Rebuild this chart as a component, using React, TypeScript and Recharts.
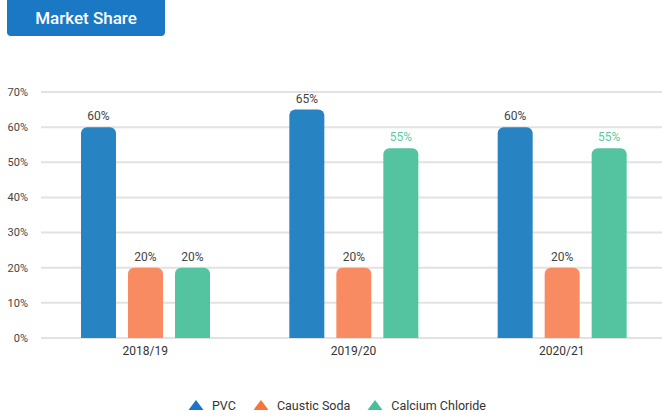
import React from "react";
import {
  BarChart,
  Bar,
  XAxis,
  YAxis,
  CartesianGrid,
  Legend,
  LabelList,
} from "recharts";

const categories = ["2018/19", "2019/20", "2020/21"];
const pvc = [60, 65, 60];
const causticSoda = [20, 20, 20];
const calciumChloride = [20, 54, 54];
const calciumChlorideLabels = ["20%", "55%", "55%"];
const yTicks = [0, 10, 20, 30, 40, 50, 60, 70];

const FONT = "Roboto, 'Noto Sans', sans-serif";

const SERIES = [
  { key: "pvc", name: "PVC", bar: "#2783c2", icon: "#1c75c8" },
  { key: "causticSoda", name: "Caustic Soda", bar: "#f88b62", icon: "#f4763a" },
  { key: "calciumChloride", name: "Calcium Chloride", bar: "#54c4a0", icon: "#45c09a" },
];

// label colour per category for the calcium chloride series
const CC_LABEL_COLORS = ["#444444", "#5ccaa3", "#5ccaa3"];

const data = categories.map((c, i) => ({
  category: c,
  pvc: pvc[i],
  causticSoda: causticSoda[i],
  calciumChloride: calciumChloride[i],
}));

function makeLabel(getText: (i: number, v: number) => string, getColor: (i: number) => string) {
  return (props: any) => {
    const { x, y, width, value, index } = props;
    return (
      <text
        x={Number(x) + Number(width) / 2}
        y={Number(y) - 7}
        textAnchor="middle"
        fontSize={12}
        fontFamily={FONT}
        fill={getColor(index)}
      >
        {getText(index, value)}
      </text>
    );
  };
}

function LegendContent() {
  return (
    <div
      style={{
        display: "flex",
        justifyContent: "center",
        alignItems: "center",
        gap: 17,
        height: 20,
        paddingLeft: 8,
        fontFamily: FONT,
        fontSize: 12.5,
        color: "#333",
      }}
    >
      {SERIES.map((s) => (
        <div key={s.key} style={{ display: "flex", alignItems: "center" }}>
          <svg width={16} height={12} style={{ marginRight: 8 }}>
            <polygon points="8,1 15.5,11 0.5,11" fill={s.icon} />
          </svg>
          <span>{s.name}</span>
        </div>
      ))}
    </div>
  );
}

export default function App() {
  return (
    <div
      style={{
        position: "fixed",
        left: 0,
        top: 0,
        width: 662,
        height: 419,
        overflow: "hidden",
        background: "#fff",
      }}
    >
      <div
        style={{
          position: "absolute",
          left: 7,
          top: -5,
          width: 158,
          height: 41,
          background: "#1b78c4",
          borderRadius: 4,
          color: "#fff",
          fontFamily: FONT,
          fontWeight: 500,
          fontSize: 17,
          display: "flex",
          alignItems: "center",
          justifyContent: "center",
          paddingTop: 5,
          boxSizing: "border-box",
        }}
      >
        Market Share
      </div>
      <div style={{ position: "absolute", left: 0, top: 0 }}>
        <BarChart
          width={666}
          height={419}
          data={data}
          margin={{ top: 92, right: 0, left: 0, bottom: 31 }}
          barSize={35}
          barGap={12}
        >
          <CartesianGrid vertical={false} stroke="#e2e2e2" strokeWidth={2} />
          <XAxis
            dataKey="category"
            axisLine={false}
            tickLine={false}
            tick={{ fontSize: 12, fill: "#333", fontFamily: FONT }}
            height={30}
          />
          <YAxis
            width={41}
            domain={[0, 70]}
            ticks={yTicks}
            axisLine={false}
            tickLine={false}
            tickMargin={7}
            tickFormatter={(v: number) => `${v}%`}
            tick={{ fontSize: 11, fill: "#444", fontFamily: FONT }}
          />
          <Legend
            verticalAlign="bottom"
            content={<LegendContent />}
            wrapperStyle={{ bottom: 4 }}
          />
          <Bar dataKey="pvc" name="PVC" fill={SERIES[0].bar} radius={[6, 6, 0, 0]} isAnimationActive={false}>
            <LabelList content={makeLabel((i, v) => `${v}%`, () => "#444444")} />
          </Bar>
          <Bar dataKey="causticSoda" name="Caustic Soda" fill={SERIES[1].bar} radius={[6, 6, 0, 0]} isAnimationActive={false}>
            <LabelList content={makeLabel((i, v) => `${v}%`, () => "#444444")} />
          </Bar>
          <Bar dataKey="calciumChloride" name="Calcium Chloride" fill={SERIES[2].bar} radius={[6, 6, 0, 0]} isAnimationActive={false}>
            <LabelList
              content={makeLabel((i) => calciumChlorideLabels[i], (i) => CC_LABEL_COLORS[i])}
            />
          </Bar>
        </BarChart>
      </div>
    </div>
  );
}
